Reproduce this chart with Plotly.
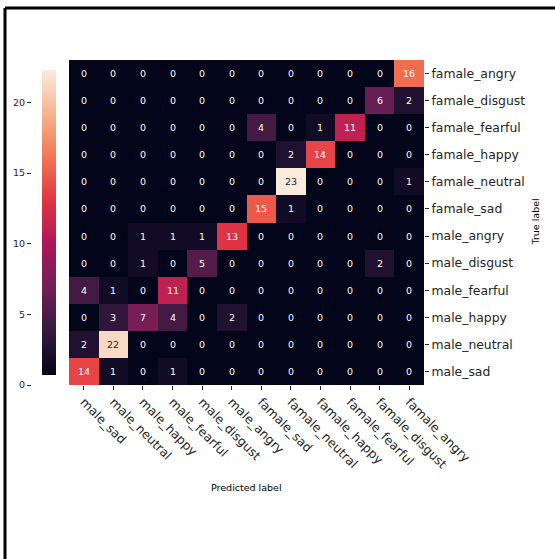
import plotly.graph_objects as go
import numpy as np

# ---- data (as displayed) ----
pred_labels = ["male_sad", "male_neutral", "male_happy", "male_fearful", "male_disgust", "male_angry",
               "famale_sad", "famale_neutral", "famale_happy", "famale_fearful", "famale_disgust", "famale_angry"]
true_labels = ["famale_angry", "famale_disgust", "famale_fearful", "famale_happy", "famale_neutral", "famale_sad",
               "male_angry", "male_disgust", "male_fearful", "male_happy", "male_neutral", "male_sad"]
counts = [
    [0, 0, 0, 0, 0, 0, 0, 0, 0, 0, 0, 16],
    [0, 0, 0, 0, 0, 0, 0, 0, 0, 0, 6, 2],
    [0, 0, 0, 0, 0, 0, 4, 0, 1, 11, 0, 0],
    [0, 0, 0, 0, 0, 0, 0, 2, 14, 0, 0, 0],
    [0, 0, 0, 0, 0, 0, 0, 23, 0, 0, 0, 1],
    [0, 0, 0, 0, 0, 0, 15, 1, 0, 0, 0, 0],
    [0, 0, 1, 1, 1, 13, 0, 0, 0, 0, 0, 0],
    [0, 0, 1, 0, 5, 0, 0, 0, 0, 0, 2, 0],
    [4, 1, 0, 11, 0, 0, 0, 0, 0, 0, 0, 0],
    [0, 3, 7, 4, 0, 2, 0, 0, 0, 0, 0, 0],
    [2, 22, 0, 0, 0, 0, 0, 0, 0, 0, 0, 0],
    [14, 1, 0, 1, 0, 0, 0, 0, 0, 0, 0, 0],
]
cbar_ticks = [0, 5, 10, 15, 20]

# ---- rocket colormap approximation ----
rocket_stops = [
    (0.0, (3, 5, 26)),
    (1 / 7, (0x35, 0x19, 0x3e)),
    (2 / 7, (0x70, 0x1f, 0x57)),
    (3 / 7, (0xad, 0x17, 0x59)),
    (4 / 7, (0xe1, 0x33, 0x42)),
    (5 / 7, (0xf3, 0x76, 0x51)),
    (6 / 7, (0xf6, 0xb4, 0x8f)),
    (1.0, (0xfa, 0xeb, 0xdd)),
]
colorscale = [[p, "rgb(%d,%d,%d)" % c] for p, c in rocket_stops]


def cmap(t):
    for (p0, c0), (p1, c1) in zip(rocket_stops[:-1], rocket_stops[1:]):
        if p0 <= t <= p1:
            f = (t - p0) / (p1 - p0) if p1 > p0 else 0
            return [c0[i] + f * (c1[i] - c0[i]) for i in range(3)]
    return list(rocket_stops[-1][1])


def rel_lum(rgb):
    v = []
    for c in rgb:
        c = c / 255.0
        v.append(c / 12.92 if c <= 0.03928 else ((c + 0.055) / 1.055) ** 2.4)
    return 0.2126 * v[0] + 0.7152 * v[1] + 0.0722 * v[2]


zmin = 0
zmax = int(np.max(counts))

W, H = 555, 559
px = lambda x: x / W
py = lambda y: 1 - y / H

dark = "#262626"
font_family = "DejaVu Sans"

fig = go.Figure()
fig.add_trace(go.Heatmap(
    z=counts, x=pred_labels, y=true_labels,
    colorscale=colorscale, zmin=zmin, zmax=zmax,
    xgap=0, ygap=0,
    colorbar=dict(
        x=px(32), xanchor="left", y=py(222.5), yanchor="middle",
        thickness=14, thicknessmode="pixels",
        len=325 / H, lenmode="fraction",
        showticklabels=False, ticks="", outlinewidth=0,
    ),
    hovertemplate="%{y} → %{x}: %{z}<extra></extra>",
))

# axis for colorbar tick labels (left side)
fig.add_trace(go.Scatter(x=[], y=[], xaxis="x2", yaxis="y2", showlegend=False, hoverinfo="skip"))

annotations = []
for i, row_label in enumerate(true_labels):
    for j, col_label in enumerate(pred_labels):
        v = counts[i][j]
        col = cmap((v - zmin) / (zmax - zmin))
        tc = dark if rel_lum(col) > 0.408 else "white"
        annotations.append(dict(
            x=col_label, y=row_label, xref="x", yref="y", text=str(v), showarrow=False,
            font=dict(size=9.5, color=tc, family=font_family),
        ))

annotations.append(dict(
    x=px(246.5), y=py(487), xref="paper", yref="paper", text="Predicted label", showarrow=False,
    font=dict(size=9.5, color="black", family=font_family), xanchor="center", yanchor="middle",
))
annotations.append(dict(
    x=px(535), y=py(222.5), xref="paper", yref="paper", text="True label", showarrow=False,
    textangle=-90, font=dict(size=9.5, color="black", family=font_family), xanchor="center", yanchor="middle",
))

shapes = [
    dict(type="line", xref="paper", yref="paper", x0=px(5), x1=px(5), y0=py(8), y1=0,
         line=dict(color="black", width=3)),
    dict(type="line", xref="paper", yref="paper", x0=px(5), x1=1, y0=py(8), y1=py(8),
         line=dict(color="black", width=3)),
]

fig.update_layout(
    width=W, height=H,
    margin=dict(l=0, r=0, t=0, b=0),
    paper_bgcolor="white", plot_bgcolor="white",
    font=dict(family=font_family, color=dark),
    xaxis=dict(
        domain=[px(69), px(424)], anchor="y", tickangle=45, ticks="outside", ticklen=4,
        tickcolor=dark, tickfont=dict(size=12.4, color=dark), showgrid=False, zeroline=False,
        showline=False, automargin=False,
    ),
    yaxis=dict(
        domain=[py(385), py(60)], anchor="x", side="right", autorange="reversed",
        ticks="outside", ticklen=4, tickcolor=dark, tickfont=dict(size=12.4, color=dark),
        showgrid=False, zeroline=False, showline=False, automargin=False,
    ),
    xaxis2=dict(domain=[px(32), px(46)], anchor="y2", visible=False, range=[0, 1]),
    yaxis2=dict(
        domain=[py(385), py(60)], anchor="x2", side="left", range=[zmin, zmax],
        tickvals=cbar_ticks, ticks="outside", ticklen=4, tickcolor=dark,
        tickfont=dict(size=9.5, color=dark), showgrid=False, zeroline=False, showline=False,
        automargin=False,
    ),
    annotations=annotations,
    shapes=shapes,
    showlegend=False,
)

fig.write_html(
    "out.html",
    config={"displayModeBar": False},
    post_script="document.body.style.margin='0px';document.body.style.overflow='hidden';",
)
